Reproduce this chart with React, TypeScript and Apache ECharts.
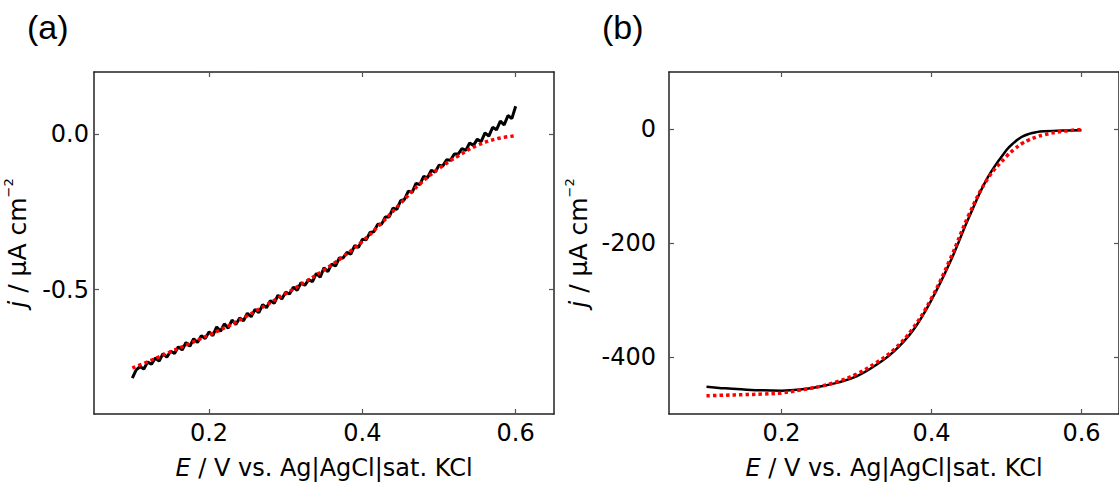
import React, { useEffect, useRef } from "react";
import * as echarts from "echarts";

// ---------- data ----------
const xTicks = [0.2, 0.4, 0.6];
const yTicksA = [0, -0.5];
const yTicksB = [0, -200, -400];

// panel (a): measured (noisy) curve, step 0.005 V from 0.100 to 0.600
const aMeasuredE = [
  0.1, 0.105, 0.11, 0.115, 0.12, 0.125, 0.13, 0.135, 0.14, 0.145, 0.15, 0.155, 0.16, 0.165, 0.17, 0.175, 0.18,
  0.185, 0.19, 0.195, 0.2, 0.205, 0.21, 0.215, 0.22, 0.225, 0.23, 0.235, 0.24, 0.245, 0.25, 0.255, 0.26, 0.265,
  0.27, 0.275, 0.28, 0.285, 0.29, 0.295, 0.3, 0.305, 0.31, 0.315, 0.32, 0.325, 0.33, 0.335, 0.34, 0.345, 0.35,
  0.355, 0.36, 0.365, 0.37, 0.375, 0.38, 0.385, 0.39, 0.395, 0.4, 0.405, 0.41, 0.415, 0.42, 0.425, 0.43, 0.435,
  0.44, 0.445, 0.45, 0.455, 0.46, 0.465, 0.47, 0.475, 0.48, 0.485, 0.49, 0.495, 0.5, 0.505, 0.51, 0.515, 0.52,
  0.525, 0.53, 0.535, 0.54, 0.545, 0.55, 0.555, 0.56, 0.565, 0.57, 0.575, 0.58, 0.585, 0.59, 0.595, 0.6,
];
const aMeasuredJ = [
  -0.785, -0.758, -0.748, -0.755, -0.733, -0.74, -0.72, -0.73, -0.706, -0.717, -0.698, -0.705, -0.684, -0.694,
  -0.67, -0.682, -0.658, -0.67, -0.648, -0.657, -0.636, -0.648, -0.62, -0.634, -0.61, -0.624, -0.598, -0.612,
  -0.591, -0.6, -0.576, -0.587, -0.564, -0.574, -0.548, -0.558, -0.536, -0.544, -0.518, -0.53, -0.508, -0.514,
  -0.492, -0.502, -0.478, -0.486, -0.468, -0.474, -0.448, -0.46, -0.43, -0.442, -0.418, -0.424, -0.398, -0.398,
  -0.38, -0.386, -0.358, -0.364, -0.338, -0.34, -0.316, -0.314, -0.29, -0.29, -0.266, -0.266, -0.238, -0.242,
  -0.214, -0.21, -0.183, -0.187, -0.158, -0.162, -0.136, -0.14, -0.116, -0.122, -0.1, -0.102, -0.082, -0.084,
  -0.064, -0.064, -0.046, -0.052, -0.028, -0.036, -0.016, -0.024, 0.004, -0.006, 0.022, 0.014, 0.042, 0.03, 0.06,
  0.05, 0.09,
];

// panel (a): fitted curve, step 0.025 V
const aFitE = [
  0.1, 0.125, 0.15, 0.175, 0.2, 0.225, 0.25, 0.275, 0.3, 0.325, 0.35, 0.375, 0.4, 0.425, 0.45, 0.475, 0.5, 0.525,
  0.55, 0.575, 0.6,
];
const aFitJ = [
  -0.752, -0.727, -0.7, -0.673, -0.646, -0.617, -0.584, -0.549, -0.513, -0.476, -0.437, -0.394, -0.345, -0.286,
  -0.222, -0.16, -0.11, -0.07, -0.036, -0.015, -0.005,
];

// panel (b): measured and fitted curves
const bE = [
  0.1, 0.125, 0.15, 0.175, 0.2, 0.225, 0.25, 0.275, 0.3, 0.325, 0.35, 0.375, 0.4, 0.425, 0.45, 0.475, 0.5, 0.51,
  0.52, 0.53, 0.54, 0.55, 0.575, 0.6,
];
const bMeasuredJ = [
  -452, -455, -457, -458.5, -459, -457, -452, -445, -434, -415, -390, -354, -300, -233, -155, -85, -37, -24, -14,
  -8.5, -5.5, -4, -2.5, -2,
];
const bFitJ = [
  -468, -467, -466, -465, -463, -458, -452, -443, -430, -411, -387, -350, -297, -228, -150, -87, -48, -36, -26,
  -19, -14, -10, -4, -1,
];

const pairs = (xs: number[], ys: number[]) => xs.map((x, i) => [x, ys[i]]);

const FONT = "DejaVu Sans, Liberation Sans, Arial, sans-serif";
const FONT_PANEL = "Liberation Sans, Arial, sans-serif";

export default function App() {
  const ref = useRef<HTMLDivElement>(null);

  useEffect(() => {
    if (!ref.current) return;
    const chart = echarts.init(ref.current, null, { renderer: "svg" });

    const axisLine = { show: true, onZero: false, lineStyle: { color: "#222", width: 1.5 } };
    const tick = (vals: number[]) => ({
      show: true,
      inside: true,
      length: 5,
      customValues: vals,
      lineStyle: { color: "#555", width: 1.2 },
    });
    const labelStyle = { color: "#000", fontSize: 24, fontFamily: FONT };

    const xBottom = (gridIndex: number) => ({
      type: "value",
      gridIndex,
      min: 0.05,
      max: 0.65,
      position: "bottom",
      axisLine,
      axisTick: tick(xTicks),
      splitLine: { show: false },
      axisLabel: {
        ...labelStyle,
        margin: 7,
        customValues: xTicks,
        formatter: (v: number) => v.toFixed(1),
      },
      name: "{i|E} / V vs. Ag|AgCl|sat. KCl",
      nameLocation: "middle",
      nameGap: 42,
      nameTextStyle: {
        color: "#000",
        fontSize: 24,
        fontFamily: FONT,
        rich: { i: { fontStyle: "italic", fontSize: 24, fontFamily: FONT, color: "#000" } },
      },
    });
    const xTop = (gridIndex: number) => ({
      type: "value",
      gridIndex,
      min: 0.05,
      max: 0.65,
      position: "top",
      axisLine,
      axisTick: tick(xTicks),
      splitLine: { show: false },
      axisLabel: { show: false },
    });
    const yName = (gap: number) => ({
      name: "{i|j} / μA cm{sup|−2}",
      nameLocation: "middle",
      nameGap: gap,
      nameRotate: 90,
      nameTextStyle: {
        color: "#000",
        fontSize: 25,
        fontFamily: FONT,
        rich: {
          i: { fontStyle: "italic", fontSize: 25, fontFamily: FONT, color: "#000" },
          sup: { fontSize: 13, fontFamily: FONT, color: "#000", verticalAlign: "top", lineHeight: 30 },
        },
      },
    });
    const yLeft = (
      gridIndex: number,
      min: number,
      max: number,
      vals: number[],
      fmt: (v: number) => string,
      margin: number,
      gap: number
    ) => ({
      type: "value",
      gridIndex,
      min,
      max,
      position: "left",
      axisLine,
      axisTick: tick(vals),
      splitLine: { show: false },
      axisLabel: { ...labelStyle, margin, customValues: vals, formatter: fmt },
      ...yName(gap),
    });
    const yRight = (gridIndex: number, min: number, max: number, vals: number[]) => ({
      type: "value",
      gridIndex,
      min,
      max,
      position: "right",
      axisLine,
      axisTick: tick(vals),
      splitLine: { show: false },
      axisLabel: { show: false },
    });

    const option = {
      animation: false,
      backgroundColor: "#fff",
      grid: [
        { left: 94, top: 72, width: 460, height: 342 },
        { left: 669, top: 72, width: 459.5, height: 342 },
      ],
      xAxis: [xBottom(0), xTop(0), xBottom(1), xTop(1)],
      yAxis: [
        yLeft(0, -0.9, 0.2, yTicksA, (v: number) => v.toFixed(1), 5, 62),
        yRight(0, -0.9, 0.2, yTicksA),
        yLeft(1, -500, 100, yTicksB, (v: number) => String(Math.round(v)), 13, 76),
        yRight(1, -500, 100, yTicksB),
      ],
      graphic: [
        { type: "text", left: 27, top: 10, style: { text: "(a)", fontSize: 34, fontFamily: FONT_PANEL, fill: "#000" } },
        { type: "text", left: 602, top: 10, style: { text: "(b)", fontSize: 34, fontFamily: FONT_PANEL, fill: "#000" } },
      ],
      series: [
        {
          type: "line",
          xAxisIndex: 0,
          yAxisIndex: 0,
          data: pairs(aMeasuredE, aMeasuredJ),
          showSymbol: false,
          lineStyle: { color: "#000", width: 3 },
          z: 2,
        },
        {
          type: "line",
          xAxisIndex: 0,
          yAxisIndex: 0,
          data: pairs(aFitE, aFitJ),
          smooth: 0.4,
          showSymbol: false,
          lineStyle: { color: "#ff0000", width: 3.5, type: [3.5, 3] },
          z: 3,
        },
        {
          type: "line",
          xAxisIndex: 2,
          yAxisIndex: 2,
          data: pairs(bE, bMeasuredJ),
          smooth: 0.4,
          showSymbol: false,
          lineStyle: { color: "#000", width: 2.5 },
          z: 2,
        },
        {
          type: "line",
          xAxisIndex: 2,
          yAxisIndex: 2,
          data: pairs(bE, bFitJ),
          smooth: 0.4,
          showSymbol: false,
          lineStyle: { color: "#ff0000", width: 3.5, type: [3.5, 3] },
          z: 3,
        },
      ],
    };

    chart.setOption(option as any);
    return () => chart.dispose();
  }, []);

  return (
    <div
      ref={ref}
      style={{ position: "fixed", left: 0, top: 0, width: 1119, height: 485, background: "#fff" }}
    />
  );
}
